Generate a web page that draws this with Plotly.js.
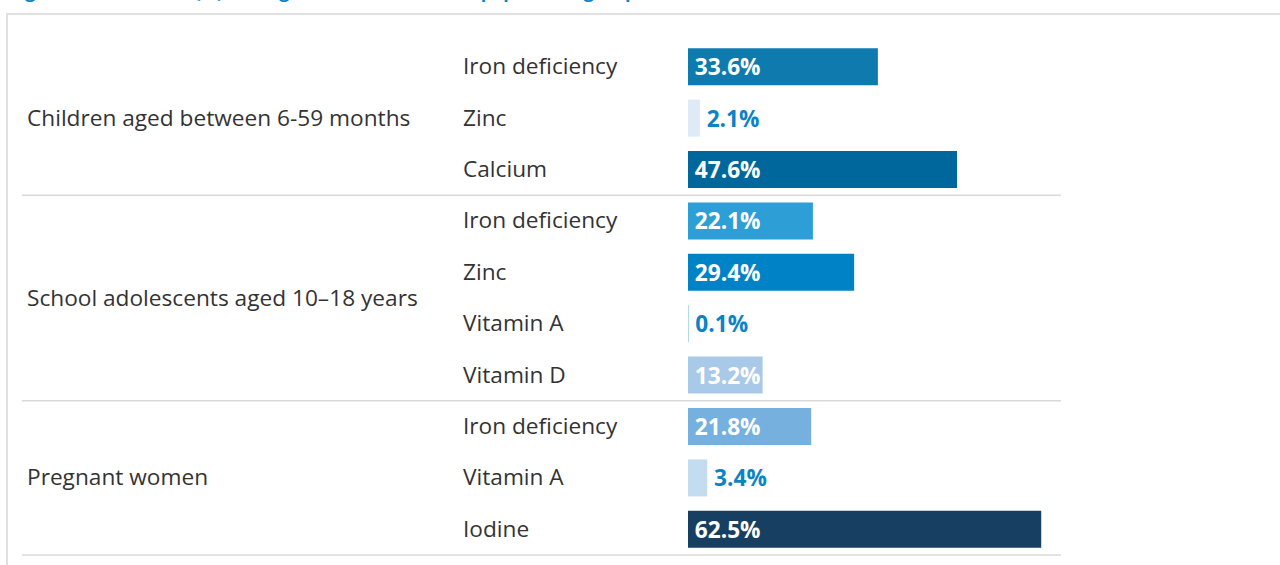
<!DOCTYPE html>
<html>
<head>
<meta charset="utf-8">
<script src="https://cdn.plot.ly/plotly-3.0.1.min.js"></script>
<style>
  html, body { margin: 0; padding: 0; background: #ffffff; overflow: hidden; }
  #frame { position: absolute; left: 6px; top: 13px; width: 1400px; height: 700px;
           border-top: 2px solid #e1e1e1; border-left: 2px solid #e1e1e1; z-index: 0; }
  #chart { position: absolute; left: 0; top: 0; width: 1280px; height: 565px; z-index: 1; }
</style>
</head>
<body>
<div id="frame"></div>
<div id="chart"></div>
<script>
// ---- data ----
const titleText = 'Figure 3: Prevalence (%) among the most vulnerable population groups';
const groups = ['Children aged between 6-59 months', 'School adolescents aged 10–18 years', 'Pregnant women'];
const groupSizes = [3, 4, 3];
const items = ['Iron deficiency', 'Zinc', 'Calcium',
               'Iron deficiency', 'Zinc', 'Vitamin A', 'Vitamin D',
               'Iron deficiency', 'Vitamin A', 'Iodine'];
const values = [33.6, 2.1, 47.6, 22.1, 29.4, 0.1, 13.2, 21.8, 3.4, 62.5];
const barColors = ['#0f7aad', '#deebf6', '#00679c', '#2d9ed6', '#0083c6',
                   '#78c0d0', '#a9c9e9', '#75b0df', '#c4dcf0', '#173f61'];

// ---- style ----
const FONT = 'Open Sans, Noto Sans, sans-serif';
const FS = 22.67;
const W = 1280, H = 565;
const ML = 688, MR = 219, MT = 41, MB = 10;
const PW = W - ML - MR;
const N = items.length;
const idx = items.map((_, i) => i);
const outsideBlue = '#0a84c6';

const positions = values.map(v => v < 5 ? 'outside' : 'inside');
const textColors = positions.map(p => p === 'outside' ? outsideBlue : '#ffffff');

const trace = {
  type: 'bar',
  orientation: 'h',
  x: values,
  y: idx,
  marker: { color: barColors, line: { width: 0 } },
  texttemplate: '<b>\u2006%{x:.1f}%</b>',
  textposition: positions,
  insidetextanchor: 'start',
  constraintext: 'none',
  cliponaxis: false,
  textfont: { family: FONT, size: FS, color: textColors },
  hoverinfo: 'skip'
};

const annotations = [];
items.forEach((name, i) => {
  annotations.push({
    xref: 'paper', x: 0, xanchor: 'left', xshift: 461 - ML,
    yref: 'y', y: i, yanchor: 'middle', yshift: 1,
    text: name, showarrow: false,
    font: { family: FONT, size: FS, color: '#333333' }
  });
});
let start = 0;
groups.forEach((g, k) => {
  annotations.push({
    xref: 'paper', x: 0, xanchor: 'left', xshift: 25 - ML,
    yref: 'y', y: start + (groupSizes[k] - 1) / 2, yanchor: 'middle', yshift: 1,
    text: g, showarrow: false,
    font: { family: FONT, size: FS, color: '#333333' }
  });
  start += groupSizes[k];
});
annotations.push({
  xref: 'paper', x: 0, xanchor: 'left', xshift: 8 - ML,
  yref: 'paper', y: 1, yanchor: 'bottom', yshift: MT - 5,
  text: '<b>' + titleText + '</b>', showarrow: false,
  font: { family: FONT, size: 18, color: '#0c83c5' }
});

const shapes = [];
let cum = 0;
groupSizes.forEach(s => {
  cum += s;
  const py = (N - cum) / N;
  shapes.push({
    type: 'line', xref: 'paper', yref: 'paper',
    x0: -(ML - 22) / PW, x1: 1, y0: py, y1: py,
    line: { color: '#dadada', width: 1.5 }
  });
});

const layout = {
  width: W, height: H,
  margin: { l: ML, r: MR, t: MT, b: MB, pad: 0 },
  paper_bgcolor: 'rgba(0,0,0,0)',
  plot_bgcolor: 'rgba(0,0,0,0)',
  showlegend: false,
  bargap: 0.28,
  xaxis: { range: [0, 66], visible: false, fixedrange: true },
  yaxis: { range: [N - 0.5, -0.5], visible: false, fixedrange: true },
  annotations: annotations,
  shapes: shapes,
  font: { family: FONT }
};

Plotly.newPlot('chart', [trace], layout, { staticPlot: true, displayModeBar: false });
</script>
</body>
</html>
